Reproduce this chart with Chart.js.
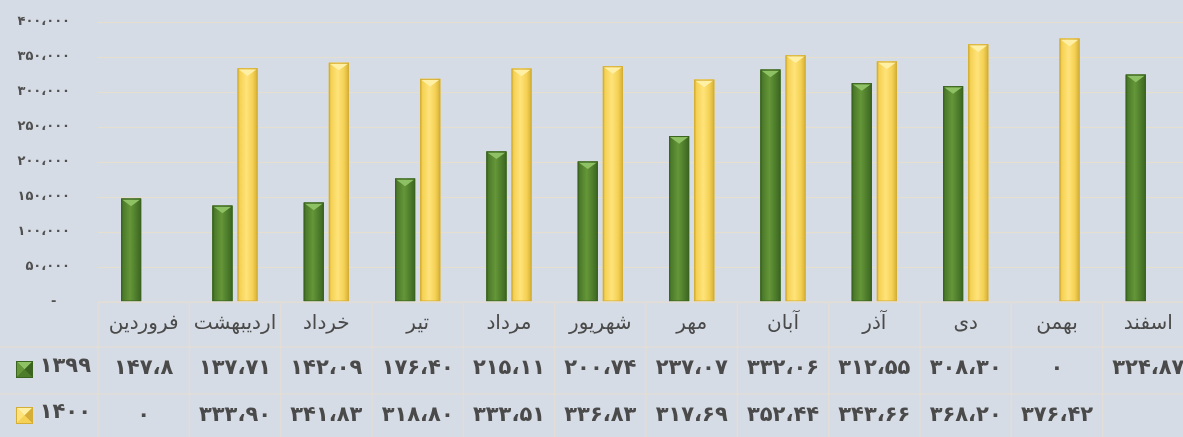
<!DOCTYPE html>
<html>
<head>
<meta charset="utf-8">
<script src="https://cdn.jsdelivr.net/npm/chart.js@4.4.1/dist/chart.umd.min.js"></script>
<style>
html,body{margin:0;padding:0;background:#d6dce5;overflow:hidden;width:1183px;height:437px;}
#wrap{position:absolute;left:0;top:0;width:1195px;height:437px;}
</style>
</head>
<body>
<div id="wrap"><canvas id="c" width="1195" height="437"></canvas></div>
<script>
// ---- data ----
const months = ['فروردین','اردیبهشت','خرداد','تیر','مرداد','شهریور','مهر','آبان','آذر','دی','بهمن','اسفند'];
const seriesNames = ['۱۳۹۹','۱۴۰۰'];
const values1399 = [147800,137710,142090,176400,215110,200740,237070,332060,312550,308300,0,324870];
const values1400 = [0,333900,341830,318800,333510,336830,317690,352440,343660,368200,376420,null];
const labels1399 = ['۱۴۷،۸','۱۳۷،۷۱','۱۴۲،۰۹','۱۷۶،۴۰','۲۱۵،۱۱','۲۰۰،۷۴','۲۳۷،۰۷','۳۳۲،۰۶','۳۱۲،۵۵','۳۰۸،۳۰','۰','۳۲۴،۸۷'];
const labels1400 = ['۰','۳۳۳،۹۰','۳۴۱،۸۳','۳۱۸،۸۰','۳۳۳،۵۱','۳۳۶،۸۳','۳۱۷،۶۹','۳۵۲،۴۴','۳۴۳،۶۶','۳۶۸،۲۰','۳۷۶،۴۲',''];
const yTickLabels = ['-   ','۵۰،۰۰۰','۱۰۰،۰۰۰','۱۵۰،۰۰۰','۲۰۰،۰۰۰','۲۵۰،۰۰۰','۳۰۰،۰۰۰','۳۵۰،۰۰۰','۴۰۰،۰۰۰'];

// ---- styles ----
const FONT = '"DejaVu Sans", sans-serif';
const TEXT = '#4a4a4a';
const LINE = '#e2ded7';
const pal = [
  {base:'#4d7c2b', dark:'#3b6420', light:'#659638', top:'#8ec163'},
  {base:'#f5d255', dark:'#d4ae36', light:'#ffe37a', top:'#fff0a6'}
];

const barBevel = {
  id:'barBevel',
  afterDatasetsDraw(chart){
    const ctx = chart.ctx;
    ctx.save();
    chart.data.datasets.forEach((ds, di) => {
      const meta = chart.getDatasetMeta(di);
      const p = pal[di];
      meta.data.forEach((bar, i) => {
        const v = ds.data[i];
        if (!v) return;
        const {x, y, base, width} = bar.getProps(['x','y','base','width'], true);
        const x0 = x - width/2, x1 = x + width/2;
        const g = ctx.createLinearGradient(x0,0,x1,0);
        g.addColorStop(0, p.dark); g.addColorStop(0.12, p.base); g.addColorStop(0.45, p.light);
        g.addColorStop(0.75, p.base); g.addColorStop(1, p.dark);
        ctx.fillStyle = g; ctx.fillRect(x0, y, width, base - y);
        const h = Math.min(width*0.38, base - y);
        ctx.fillStyle = p.top;
        ctx.beginPath(); ctx.moveTo(x0+1, y+1); ctx.lineTo(x1-1, y+1); ctx.lineTo(x, y+h); ctx.closePath(); ctx.fill();
        ctx.strokeStyle = p.dark; ctx.lineWidth = 1;
        ctx.strokeRect(x0+0.5, y+0.5, width-1, base - y - 1);
      });
    });
    ctx.restore();
  }
};

const dataTable = {
  id:'dataTable',
  afterDraw(chart){
    const ctx = chart.ctx;
    const xs = chart.scales.x;
    const n = months.length;
    const cw = xs.width / n;
    const top = chart.chartArea.bottom;
    const rows = [top, top+45, top+92, top+139];
    ctx.save();
    ctx.strokeStyle = LINE; ctx.lineWidth = 1.5;
    ctx.beginPath(); ctx.moveTo(xs.left, rows[0]); ctx.lineTo(xs.right, rows[0]); ctx.stroke();
    ctx.beginPath(); ctx.moveTo(0, rows[1]); ctx.lineTo(xs.right, rows[1]); ctx.stroke();
    ctx.beginPath(); ctx.moveTo(0, rows[2]); ctx.lineTo(xs.right, rows[2]); ctx.stroke();
    for (let i = 0; i <= n; i++) {
      const xb = xs.getPixelForValue(i) - cw/2;
      ctx.beginPath(); ctx.moveTo(xb, rows[0]); ctx.lineTo(xb, rows[3]); ctx.stroke();
    }
    ctx.fillStyle = TEXT; ctx.textAlign = 'center'; ctx.textBaseline = 'middle';
    ctx.font = '20px ' + FONT;
    months.forEach((m, i) => ctx.fillText(m, xs.getPixelForValue(i), rows[0] + 22));
    ctx.font = 'bold 21px ' + FONT;
    labels1399.forEach((t, i) => ctx.fillText(t, xs.getPixelForValue(i), rows[1] + 22));
    labels1400.forEach((t, i) => ctx.fillText(t, xs.getPixelForValue(i), rows[2] + 22));
    ctx.textAlign = 'right';
    [rows[1] + 22, rows[2] + 21].forEach((cy, k) => {
      const p = pal[k];
      const s = 17, x0 = 16, y0 = cy - 8;
      ctx.fillStyle = p.base; ctx.fillRect(x0, y0, s, s);
      const c = [x0 + s/2, y0 + s/2];
      const tri = (a,b,col) => { ctx.fillStyle = col; ctx.beginPath(); ctx.moveTo(a[0],a[1]); ctx.lineTo(b[0],b[1]); ctx.lineTo(c[0],c[1]); ctx.closePath(); ctx.fill(); };
      tri([x0,y0],[x0+s,y0],p.top);
      tri([x0,y0],[x0,y0+s],p.light);
      tri([x0+s,y0],[x0+s,y0+s],p.dark);
      tri([x0,y0+s],[x0+s,y0+s],p.base);
      ctx.strokeStyle = p.dark; ctx.lineWidth = 1; ctx.strokeRect(x0+0.5, y0+0.5, s-1, s-1);
      ctx.fillStyle = TEXT;
      ctx.fillText(seriesNames[k], 91, cy - 2);
    });
    ctx.restore();
  }
};

new Chart(document.getElementById('c'), {
  type:'bar',
  data:{
    labels: months,
    datasets:[
      {label: seriesNames[0], data: values1399, backgroundColor: pal[0].base},
      {label: seriesNames[1], data: values1400, backgroundColor: pal[1].base}
    ]
  },
  options:{
    responsive:false,
    animation:false,
    devicePixelRatio:1,
    layout:{padding:{top:22, bottom:135, left:0, right:1}},
    categoryPercentage:0.55,
    barPercentage:0.8,
    plugins:{legend:{display:false}, tooltip:{enabled:false}},
    scales:{
      x:{display:false},
      y:{
        min:0, max:400000,
        afterFit(s){ s.width = 98; },
        border:{display:false},
        grid:{color:'#e6dfcd', lineWidth:1, drawTicks:true, tickLength:28, tickColor:'rgba(0,0,0,0)'},
        ticks:{
          stepSize:50000, padding:0, color:'#505050',
          font:{family:FONT, size:13, weight:'bold'},
          callback:(v, i) => yTickLabels[i]
        }
      }
    }
  },
  plugins:[barBevel, dataTable]
});
</script>
</body>
</html>
